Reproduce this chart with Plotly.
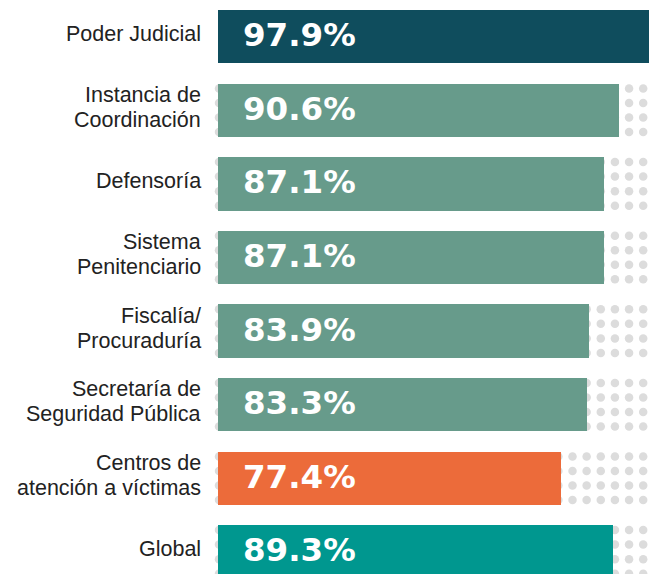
import numpy as np
import plotly.graph_objects as go

# ---- data ----
categories = [
    ["Poder Judicial"],
    ["Instancia de", "Coordinación"],
    ["Defensoría"],
    ["Sistema", "Penitenciario"],
    ["Fiscalía/", "Procuraduría"],
    ["Secretaría de", "Seguridad Pública"],
    ["Centros de", "atención a víctimas"],
    ["Global"],
]
values = [97.9, 90.6, 87.1, 87.1, 83.9, 83.3, 77.4, 89.3]
bar_colors = ["#0f4d5d", "#679b8b", "#679b8b", "#679b8b", "#679b8b", "#679b8b", "#ec6b3a", "#00978f"]
dot_rows_for = [False, True, True, True, True, True, True, True]

# ---- geometry helpers (pixel-based layout) ----
W, H = 649, 574
left_px = 218
px_per_unit = 4.426
plot_w = W - left_px
x_max = plot_w / px_per_unit
pitch = 73.6
first_center = 36.7
y_top = -first_center / pitch
y_bot = y_top + H / pitch

n = len(values)
ys = list(range(n))

fig = go.Figure()

# background dot grid (base subplot, drawn below)
dot_x0 = (219 - left_px) / px_per_unit
dot_dx = 14.14 / px_per_unit
cols = dot_x0 + dot_dx * np.arange(31)
offs = np.array([-21.8, -7.3, 7.3, 21.8]) / pitch
dx, dy = [], []
for i in ys:
    if not dot_rows_for[i]:
        continue
    for o in offs:
        dx.extend(cols.tolist())
        dy.extend([i + o] * len(cols))
fig.add_trace(go.Scatter(
    x=dx, y=dy, mode="markers", xaxis="x", yaxis="y",
    marker=dict(size=8.5, color="#dcdcdc", line=dict(width=0)),
    hoverinfo="skip", showlegend=False, cliponaxis=False,
))

# bars on overlaying subplot (drawn above dots)
fig.add_trace(go.Bar(
    x=values, y=ys, orientation="h", xaxis="x2", yaxis="y2",
    marker=dict(color=bar_colors, line=dict(width=0)),
    width=53.5 / pitch, showlegend=False, hoverinfo="skip",
))

annotations = []
for i, (lab, v) in enumerate(zip(categories, values)):
    annotations.append(dict(
        x=0, y=i, xref="x2", yref="y2", xanchor="left", yanchor="middle",
        xshift=23, yshift=1.5,
        text=f"<b>{v:.1f}%</b>", showarrow=False,
        font=dict(family="DejaVu Sans", size=32.5, color="white"),
    ))
    if len(lab) == 1:
        shifts = [3]
    else:
        shifts = [15.5, -9.5]
    for line, s in zip(lab, shifts):
        annotations.append(dict(
            x=-15 / plot_w, y=i, xref="paper", yref="y2",
            xanchor="right", yanchor="middle", yshift=s,
            text=line, showarrow=False,
            font=dict(family="Liberation Sans", size=21.5, color="#222222"),
        ))

ax_common = dict(range=[0, x_max], visible=False, fixedrange=True)
ay_common = dict(range=[y_bot, y_top], visible=False, fixedrange=True)
fig.update_layout(
    width=W, height=H,
    margin=dict(l=left_px, r=0, t=0, b=0),
    paper_bgcolor="white", plot_bgcolor="white",
    xaxis=ax_common,
    yaxis=ay_common,
    xaxis2=dict(**ax_common, overlaying="x"),
    yaxis2=dict(**ay_common, overlaying="y"),
    annotations=annotations,
    bargap=0,
)

fig.write_html(
    "out.html",
    config={"displayModeBar": False},
    post_script="document.body.style.margin='0';document.body.style.padding='0';",
)
